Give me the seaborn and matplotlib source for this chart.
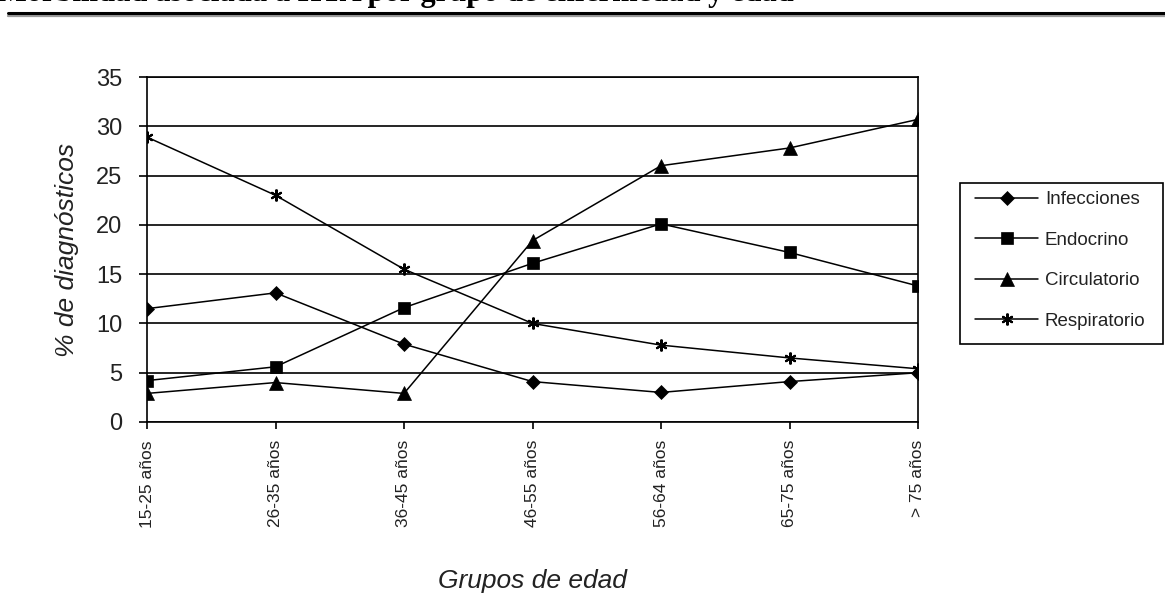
import matplotlib
matplotlib.use("Agg")
import matplotlib.pyplot as plt
import seaborn as sns
import pandas as pd
from matplotlib.lines import Line2D
from matplotlib.patches import Rectangle

# ---- data ----
categories = ["15-25 años", "26-35 años", "36-45 años", "46-55 años",
              "56-64 años", "65-75 años", "> 75 años"]
infecciones = [11.5, 13.1, 7.9, 4.1, 3.0, 4.1, 5.0]
endocrino = [4.2, 5.6, 11.6, 16.1, 20.1, 17.2, 13.8]
circulatorio = [2.9, 4.0, 2.9, 18.4, 26.0, 27.8, 30.7]
respiratorio = [28.9, 23.0, 15.5, 10.0, 7.8, 6.5, 5.4]
series_names = ["Infecciones", "Endocrino", "Circulatorio", "Respiratorio"]
yticks = [0, 5, 10, 15, 20, 25, 30, 35]

series_values = [infecciones, endocrino, circulatorio, respiratorio]
markers = ["D", "s", "^", (6, 2, 0)]
msizes = [7.0, 9.0, 9.5, 8.5]

sns.set_theme(style="white")
plt.rcParams["font.family"] = ["Liberation Sans", "DejaVu Sans"]

W, H = 1165, 615
fig = plt.figure(figsize=(W / 100, H / 100), dpi=100)
ax = fig.add_axes([147 / W, 1 - 422 / H, (918 - 147) / W, (422 - 77) / H])

x_idx = list(range(len(categories)))
for name, vals, mk, ms in zip(series_names, series_values, markers, msizes):
    df = pd.DataFrame({"x": x_idx, "v": vals})
    sns.lineplot(data=df, x="x", y="v", ax=ax, color="black", linewidth=1.1,
                 marker=mk, markersize=ms, markeredgecolor="black",
                 markerfacecolor="black",
                 markeredgewidth=1.5 if mk == (6, 2, 0) else 0.5,
                 label=name)

ax.set_xlim(0, len(categories) - 1)
ax.set_ylim(0, 35)
ax.set_yticks(yticks)
ax.set_yticklabels([str(t) for t in yticks], fontsize=17, color="#222222")
ax.set_xticks(x_idx)
ax.set_xticklabels(categories, rotation=90, fontsize=12.5, color="#222222")

ax.yaxis.grid(True, color="black", linewidth=1.2)
ax.xaxis.grid(False)
ax.set_axisbelow(True)
for s in ax.spines.values():
    s.set_color("black")
    s.set_linewidth(1.2)

ax.tick_params(axis="y", direction="out", length=6, width=1.2, color="black", pad=12, left=True)
ax.tick_params(axis="x", direction="out", length=5, width=1.2, color="black", pad=8, bottom=True)

ax.set_ylabel("% de diagnósticos", fontsize=19, style="italic", color="#222222", labelpad=12)
ax.set_xlabel("Grupos de edad", fontsize=19, style="italic", color="#222222", labelpad=30)

# legend: frameless entries + separate box
leg = ax.legend(loc="upper left", bbox_to_anchor=(975 / W, 1 - 191 / H),
                bbox_transform=fig.transFigure, frameon=False,
                fontsize=13.5, handlelength=3.36, handletextpad=0.37,
                labelspacing=1.25, borderpad=0, borderaxespad=0)
for t in leg.get_texts():
    t.set_color("#222222")
fig.add_artist(Rectangle((960 / W, 1 - 344 / H), (1163 - 960) / W, (344 - 183) / H,
                         transform=fig.transFigure, fill=False, edgecolor="black",
                         linewidth=1.2))

# partially visible title and rule at top
fig.text(-0.002, 1 - 1 / H, "Morbilidad asociada a HTA por grupo de enfermedad y edad",
         fontsize=22, fontweight="bold", family=["Liberation Serif", "DejaVu Serif"],
         va="baseline", ha="left", color="black")
fig.add_artist(Line2D([8 / W, 1.0], [1 - 15.5 / H] * 2, color="#9a9a9a", linewidth=1.6))
fig.add_artist(Line2D([8 / W, 1.0], [1 - 12.5 / H] * 2, color="black", linewidth=2.2))

fig.savefig("out.png", dpi=100, facecolor="white")
